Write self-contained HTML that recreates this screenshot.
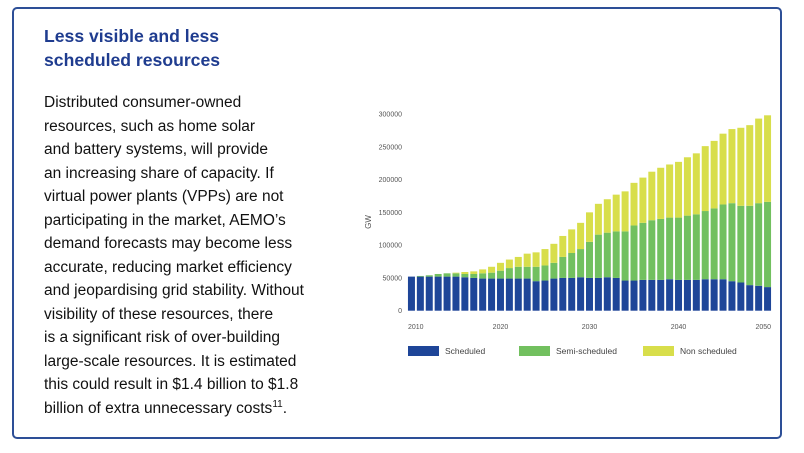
<!DOCTYPE html>
<html><head><meta charset="utf-8"><style>
body{margin:0;width:804px;height:453px;background:#fff;overflow:hidden;font-family:"Liberation Sans",sans-serif}
#card{position:absolute;left:12px;top:7px;width:770px;height:432px;border:2px solid #2d4f97;border-radius:5px;box-sizing:border-box}
#title{position:absolute;left:44px;top:25px;font-size:17.6px;font-weight:bold;color:#1f3c8f;line-height:23.5px}
#body{position:absolute;left:44px;top:91px;font-size:15.5px;color:#111;line-height:23.5px}
sup{font-size:10px;line-height:0}
</style></head><body>
<div id="card"></div>
<div id="title">Less visible and less<br>scheduled resources</div>
<div id="body">Distributed consumer-owned<br>resources, such as home solar<br>and battery systems, will provide<br>an increasing share of capacity. If<br>virtual power plants (VPPs) are not<br>participating in the market, AEMO’s<br>demand forecasts may become less<br>accurate, reducing market efficiency<br>and jeopardising grid stability. Without<br>visibility of these resources, there<br>is a significant risk of over-building<br>large-scale resources. It is estimated<br>this could result in $1.4 billion to $1.8<br>billion of extra unnecessary costs<sup>11</sup>.</div>
<svg id="chart" width="804" height="453" style="position:absolute;left:0;top:0"></svg>
<script>
const years=[];for(let y=2010;y<=2050;y++)years.push(y);
const scheduled=[52,52,52,52,52,52,51,50,49,49,49,49,49,49,45,46,49,50,50,51,50,50,51,50,46,46,47,47,47,48,47,47,47,48,48,48,45,43,39,38,36];
const greenTop=[52,53,54,56,57,57,56,56,57,58,61,65,67,67,67,69,73,82,88,94,105,116,119,121,121,130,134,138,140,142,142,145,147,152,156,162,164,160,160,164,166];
const totals=[52,53,54,56,57,58,59,60,63,67,73,78,82,87,89,94,102,114,124,134,150,163,170,177,182,195,203,212,218,223,227,234,240,251,259,270,277,279,283,293,298];
const semiScheduled=greenTop.map((g,i)=>g-scheduled[i]);
const nonScheduled=totals.map((t,i)=>t-greenTop[i]);
const yTicks=[0,50000,100000,150000,200000,250000,300000];
const xTickYears=[2010,2020,2030,2040,2050];
const svg=document.getElementById('chart');const NS='http://www.w3.org/2000/svg';
const x0=407,x1=772,y0=310.7,y300=114;
const slot=(x1-x0)/years.length,bw=7;
const yS=v=>y0-(v/300000)*(y0-y300);
const xC=i=>x0+slot*i+slot/2;
function mk(t,a){const e=document.createElementNS(NS,t);for(const k in a)e.setAttribute(k,a[k]);svg.appendChild(e);return e;}
yTicks.forEach(v=>{const t=mk('text',{x:402,y:yS(v)+2.5,'text-anchor':'end','font-size':'7','fill':'#555'});t.textContent=v;

});
const g=mk('text',{x:371,y:222,'font-size':'8','fill':'#555','text-anchor':'middle',transform:'rotate(-90 371 222)'});g.textContent='GW';


const cols=['#1e4598','#72c05f','#d8de4b'];
years.forEach((yr,i)=>{
 const segs=[scheduled[i]*1000,semiScheduled[i]*1000,nonScheduled[i]*1000];let base=0;
 segs.forEach((v,k)=>{if(v<=0)return;const r=mk('rect',{x:xC(i)-bw/2,y:yS(base+v),width:bw,height:yS(base)-yS(base+v),fill:cols[k]});
 
 base+=v;});
});
xTickYears.forEach((yr,j)=>{const i=years.indexOf(yr);let x=xC(i),a='middle';if(j==0){x=xC(i)-bw/2;a='start';}if(j==xTickYears.length-1){x=xC(i)+bw/2;a='end';}
 const t=mk('text',{x:x,y:329,'text-anchor':a,'font-size':'7','fill':'#555'});t.textContent=yr;
 
 });
const leg=[['Scheduled',408],['Semi-scheduled',519],['Non scheduled',643]];
leg.forEach((l,k)=>{const r=mk('rect',{x:l[1],y:346,width:31,height:10,fill:cols[k]});
 
 
 const t=mk('text',{x:l[1]+37,y:354,'font-size':'8.5','fill':'#444'});t.textContent=l[0];
 
 });
</script>
</body></html>
